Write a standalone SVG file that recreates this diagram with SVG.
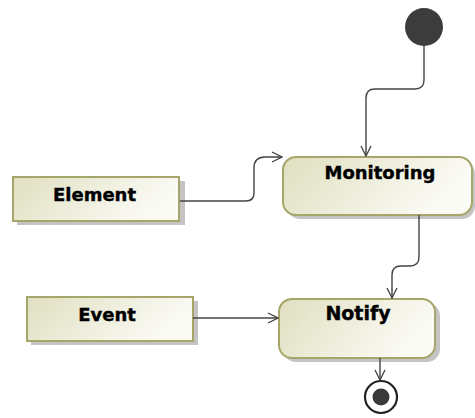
<svg xmlns="http://www.w3.org/2000/svg" width="475" height="418" viewBox="0 0 475 418">
<defs>
<linearGradient id="fillg" x1="0" y1="0" x2="1" y2="0.3">
<stop offset="0" stop-color="#e0dfc0"/>
<stop offset="1" stop-color="#fbfbf6"/>
</linearGradient>
<marker id="arr" viewBox="0 0 12 12" refX="11" refY="6" markerWidth="12" markerHeight="12" markerUnits="userSpaceOnUse" orient="auto">
<path d="M1,1 L11,6 L1,11" fill="none" stroke="#404040" stroke-width="1.3"/>
</marker>
</defs>
<style>
.box{fill:url(#fillg);stroke:#a6a66a;stroke-width:2}
.shadow{fill:#c4c4c4}
.lbl{font-family:"DejaVu Sans",sans-serif;font-weight:bold;font-size:18px;fill:#000;stroke:#000;stroke-width:0.4;text-anchor:middle}
.conn{fill:none;stroke:#444;stroke-width:1.4;marker-end:url(#arr)}
</style>
<rect width="475" height="418" fill="#ffffff"/>
<g id="initial">
<circle cx="424" cy="27" r="19" fill="#3c3c3c"/>
</g>
<g id="monitoring">
<rect class="shadow" x="287" y="161" width="188" height="58" rx="13"/>
<rect class="box" x="283" y="157" width="189" height="58" rx="13"/>
<text class="lbl" x="380" y="179">Monitoring</text>
</g>
<g id="element">
<rect class="shadow" x="17" y="181" width="168" height="44"/>
<rect class="box" x="13" y="177" width="166" height="44"/>
<text class="lbl" x="94.5" y="201">Element</text>
</g>
<g id="event">
<rect class="shadow" x="31" y="301" width="167" height="44"/>
<rect class="box" x="27" y="297" width="166" height="44"/>
<text class="lbl" x="107" y="321">Event</text>
</g>
<g id="notify">
<rect class="shadow" x="283" y="303" width="157" height="59" rx="13"/>
<rect class="box" x="279" y="299" width="156" height="59" rx="13"/>
<text class="lbl" x="358" y="320" style="font-size:19px">Notify</text>
</g>
<g id="final">
<circle cx="381" cy="397" r="16" fill="#ffffff" stroke="#222" stroke-width="2.2"/>
<circle cx="381" cy="397" r="8.5" fill="#3a3a3a"/>
</g>
<g id="connectors">
<path class="conn" d="M424,46 V80 Q424,89 415,89 H375 Q366,89 366,98 V156"/>
<path class="conn" d="M180,201 H246 Q254,201 254,193 V168 Q254,157 265,157 H282"/>
<path class="conn" d="M419,215 V257 Q419,266 410,266 H401 Q392,266 392,275 V298"/>
<path class="conn" d="M193,318 H278"/>
<path class="conn" d="M380,358 V380"/>
</g>
</svg>
